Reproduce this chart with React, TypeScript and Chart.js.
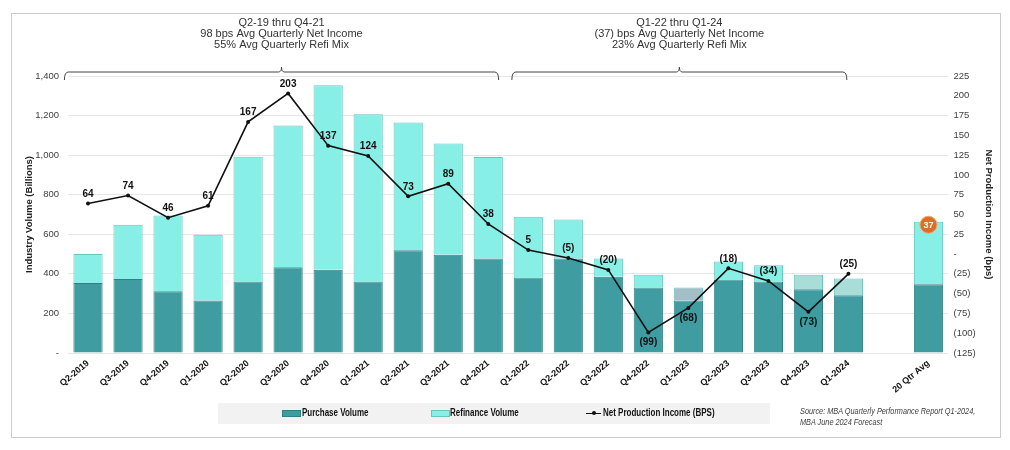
import React, { useEffect, useRef } from 'react';
import { Chart, registerables } from 'chart.js';

Chart.register(...registerables);

// ---------- data ----------
const categories = [
  'Q2-2019', 'Q3-2019', 'Q4-2019', 'Q1-2020', 'Q2-2020', 'Q3-2020', 'Q4-2020',
  'Q1-2021', 'Q2-2021', 'Q3-2021', 'Q4-2021', 'Q1-2022', 'Q2-2022', 'Q3-2022',
  'Q4-2022', 'Q1-2023', 'Q2-2023', 'Q3-2023', 'Q4-2023', 'Q1-2024', '', '20 Qtr Avg',
];
const purchaseVolume = [354, 374, 312, 265, 361, 433, 421, 361, 519, 497, 477, 381, 477, 386, 331, 265, 371, 361, 322, 292, null, 347];
const refinanceVolume = [146, 274, 383, 333, 631, 717, 932, 846, 646, 562, 513, 307, 198, 91, 65, 66, 92, 82, 74, 84, null, 316];
const netProductionIncome = [64, 74, 46, 61, 167, 203, 137, 124, 73, 89, 38, 5, -5, -20, -99, -68, -18, -34, -73, -25, null, null];
const avgNetIncome = [null, null, null, null, null, null, null, null, null, null, null, null, null, null, null, null, null, null, null, null, null, 37];
const labelsBelow = ['Q4-2022', 'Q1-2023', 'Q4-2023'];
const greyRefiCategories = ['Q1-2023'];
const paleRefiCategories = ['Q4-2023', 'Q1-2024'];

const noteLeft = ['Q2-19 thru Q4-21', '98 bps Avg Quarterly Net Income', '55% Avg Quarterly Refi Mix'];
const noteRight = ['Q1-22 thru Q1-24', '(37) bps Avg Quarterly Net Income', '23% Avg Quarterly Refi Mix'];
const legendLabels = ['Purchase Volume', 'Refinance Volume', 'Net Production Income (BPS)'];
const sourceLines = ['Source: MBA Quarterly Performance Report Q1-2024,', 'MBA June 2024 Forecast'];

// ---------- styles ----------
const PURCHASE = '#3f9ca1';
const PURCHASE_BORDER = '#2f8085';
const REFI = '#88efe6';
const REFI_BORDER = '#66c6bf';
const REFI_GREY = '#a2bec6';
const REFI_PALE = '#a8ddd8';
const FONT = "'Liberation Sans', Arial, sans-serif";

const fmtBps = (v: number) => (v === 0 ? '-' : v < 0 ? `(${-v})` : `${v}`);

const brackets = [
  { lines: noteLeft, from: 0, fromOff: -0.59, to: 10, toOff: 0.26 },
  { lines: noteRight, from: 11, fromOff: -0.41, to: 19, toOff: -0.04 },
];

const overlayPlugin = {
  id: 'overlay',
  afterDatasetsDraw(chart: any) {
    const { ctx } = chart;
    const line = chart.getDatasetMeta(2);
    ctx.save();
    ctx.font = `bold 10px ${FONT}`;
    ctx.fillStyle = '#111';
    ctx.textAlign = 'center';
    ctx.textBaseline = 'middle';
    line.data.forEach((pt: any, i: number) => {
      const v = netProductionIncome[i];
      if (v === null || v === undefined) return;
      const below = labelsBelow.includes(categories[i]);
      ctx.fillText(fmtBps(v), pt.x, below ? pt.y + 10 : pt.y - 9.5);
    });
    const avg = chart.getDatasetMeta(3);
    ctx.font = `bold 9px ${FONT}`;
    ctx.fillStyle = '#ffffff';
    avg.data.forEach((pt: any, i: number) => {
      const v = avgNetIncome[i];
      if (v === null || v === undefined) return;
      ctx.fillText(String(v), pt.x, pt.y + 0.5);
    });
    ctx.restore();
  },
  afterDraw(chart: any) {
    const { ctx } = chart;
    const x = chart.scales.x;
    const w = x.getPixelForValue(1) - x.getPixelForValue(0);
    const top = chart.chartArea.top;
    ctx.save();
    brackets.forEach((b) => {
      const L = x.getPixelForValue(b.from) + b.fromOff * w;
      const R = x.getPixelForValue(b.to) + b.toOff * w;
      const C = (L + R) / 2;
      const hy = top - 4;
      ctx.strokeStyle = '#444';
      ctx.lineWidth = 1;
      ctx.beginPath();
      ctx.moveTo(L, hy + 8);
      ctx.quadraticCurveTo(L, hy, L + 4, hy);
      ctx.lineTo(C - 3, hy);
      ctx.quadraticCurveTo(C, hy, C, hy - 5);
      ctx.quadraticCurveTo(C, hy, C + 3, hy);
      ctx.lineTo(R - 4, hy);
      ctx.quadraticCurveTo(R, hy, R, hy + 8);
      ctx.stroke();
      ctx.font = `11px ${FONT}`;
      ctx.fillStyle = '#333';
      ctx.textAlign = 'center';
      ctx.textBaseline = 'middle';
      b.lines.forEach((t, k) => ctx.fillText(t, C, 23 + k * 11));
    });
    ctx.restore();
  },
};

export default function App() {
  const ref = useRef<HTMLCanvasElement>(null);

  useEffect(() => {
    const refiColors = categories.map((c) =>
      greyRefiCategories.includes(c) ? REFI_GREY : paleRefiCategories.includes(c) ? REFI_PALE : REFI
    );
    const chart = new Chart(ref.current as HTMLCanvasElement, {
      type: 'bar',
      data: {
        labels: categories,
        datasets: [
          {
            type: 'bar',
            label: legendLabels[0],
            data: purchaseVolume as any,
            backgroundColor: PURCHASE,
            borderColor: PURCHASE_BORDER,
            borderWidth: 1,
            yAxisID: 'y',
            order: 1,
            barPercentage: 0.73,
            categoryPercentage: 1,
          },
          {
            type: 'bar',
            label: legendLabels[1],
            data: refinanceVolume as any,
            backgroundColor: refiColors,
            borderColor: REFI_BORDER,
            borderWidth: 1,
            yAxisID: 'y',
            order: 2,
            barPercentage: 0.73,
            categoryPercentage: 1,
          },
          {
            type: 'line',
            label: legendLabels[2],
            data: netProductionIncome as any,
            borderColor: '#111',
            backgroundColor: '#111',
            borderWidth: 1.6,
            pointRadius: 2,
            pointBackgroundColor: '#111',
            pointBorderWidth: 0,
            spanGaps: false,
            yAxisID: 'y1',
            order: 0,
          },
          {
            type: 'line',
            label: 'avg',
            data: avgNetIncome as any,
            showLine: false,
            pointRadius: 8.5,
            pointBackgroundColor: '#dc6e26',
            pointBorderColor: '#f1a56d',
            pointBorderWidth: 1,
            yAxisID: 'y1',
            order: -1,
          },
        ],
      },
      options: {
        responsive: false,
        animation: false,
        devicePixelRatio: 1,
        layout: { padding: { top: 76, left: 0, right: 0, bottom: 0 } },
        plugins: {
          legend: { display: false },
          tooltip: { enabled: false },
          title: { display: false },
        },
        scales: {
          x: {
            stacked: true,
            offset: true,
            grid: { display: false, drawTicks: false },
            border: { display: false },
            ticks: {
              autoSkip: false,
              minRotation: 40,
              maxRotation: 40,
              padding: 5,
              color: '#111',
              font: { family: FONT, size: 9, weight: 'bold' },
            },
            afterFit: (s: any) => { s.height = 97; },
          },
          y: {
            stacked: true,
            position: 'left',
            min: 0,
            max: 1400,
            grid: { color: '#e6e6e6', drawTicks: false },
            border: { display: false },
            ticks: {
              stepSize: 200,
              padding: 9,
              color: '#404040',
              font: { family: FONT, size: 9.5 },
              callback: (v: any) => (Number(v) === 0 ? '-' : Number(v).toLocaleString('en-US')),
            },
            title: {
              display: true,
              text: 'Industry Volume (Billions)',
              color: '#222',
              font: { family: FONT, size: 9.5, weight: 'bold' },
              padding: { top: 24, bottom: 0 },
            },
            afterFit: (s: any) => { s.width = 68; },
          },
          y1: {
            position: 'right',
            min: -125,
            max: 225,
            grid: { display: false, drawTicks: false },
            border: { display: false },
            ticks: {
              stepSize: 25,
              padding: 5,
              color: '#404040',
              font: { family: FONT, size: 9.5 },
              callback: (v: any) => fmtBps(Number(v)),
            },
            title: {
              display: true,
              text: 'Net Production Income (bps)',
              color: '#222',
              font: { family: FONT, size: 9.5, weight: 'bold' },
              padding: { top: 16, bottom: 0 },
            },
            afterFit: (s: any) => { s.width = 61.5; },
          },
        },
      },
      plugins: [overlayPlugin],
    });
    return () => chart.destroy();
  }, []);

  const legendText: React.CSSProperties = {
    position: 'absolute',
    top: 406,
    height: 14,
    lineHeight: '14px',
    fontFamily: FONT,
    fontWeight: 'bold',
    fontSize: 10,
    color: '#111',
    whiteSpace: 'nowrap',
    transform: 'scaleX(0.8)',
    transformOrigin: 'left center',
  };

  return (
    <div style={{ position: 'absolute', left: 0, top: 0, width: 1010, height: 450, background: '#fff', overflow: 'hidden' }}>
      <div style={{ position: 'absolute', left: 11, top: 13, width: 988, height: 423, border: '1px solid #cccccc' }} />
      <div style={{ position: 'absolute', left: 218, top: 403, width: 552, height: 21, background: '#f2f2f2' }} />
      <canvas ref={ref} width={1010} height={450} style={{ position: 'absolute', left: 0, top: 0, width: 1010, height: 450 }} />
      <div style={{ position: 'absolute', left: 282, top: 410, width: 17, height: 5, background: PURCHASE, border: `1px solid ${PURCHASE_BORDER}` }} />
      <div style={{ ...legendText, left: 302 }}>{legendLabels[0]}</div>
      <div style={{ position: 'absolute', left: 431, top: 410, width: 17, height: 5, background: REFI, border: `1px solid ${REFI_BORDER}` }} />
      <div style={{ ...legendText, left: 450 }}>{legendLabels[1]}</div>
      <div style={{ position: 'absolute', left: 586, top: 412.5, width: 15, height: 1.5, background: '#111' }} />
      <div style={{ position: 'absolute', left: 591.5, top: 411, width: 4, height: 4, borderRadius: 2, background: '#111' }} />
      <div style={{ ...legendText, left: 603 }}>{legendLabels[2]}</div>
      <div style={{ position: 'absolute', left: 800, top: 406, fontFamily: FONT, fontStyle: 'italic', fontSize: 8.5, lineHeight: '11px', color: '#404040', whiteSpace: 'nowrap', transform: 'scaleX(0.86)', transformOrigin: 'left top' }}>
        {sourceLines[0]}
        <br />
        {sourceLines[1]}
      </div>
    </div>
  );
}
